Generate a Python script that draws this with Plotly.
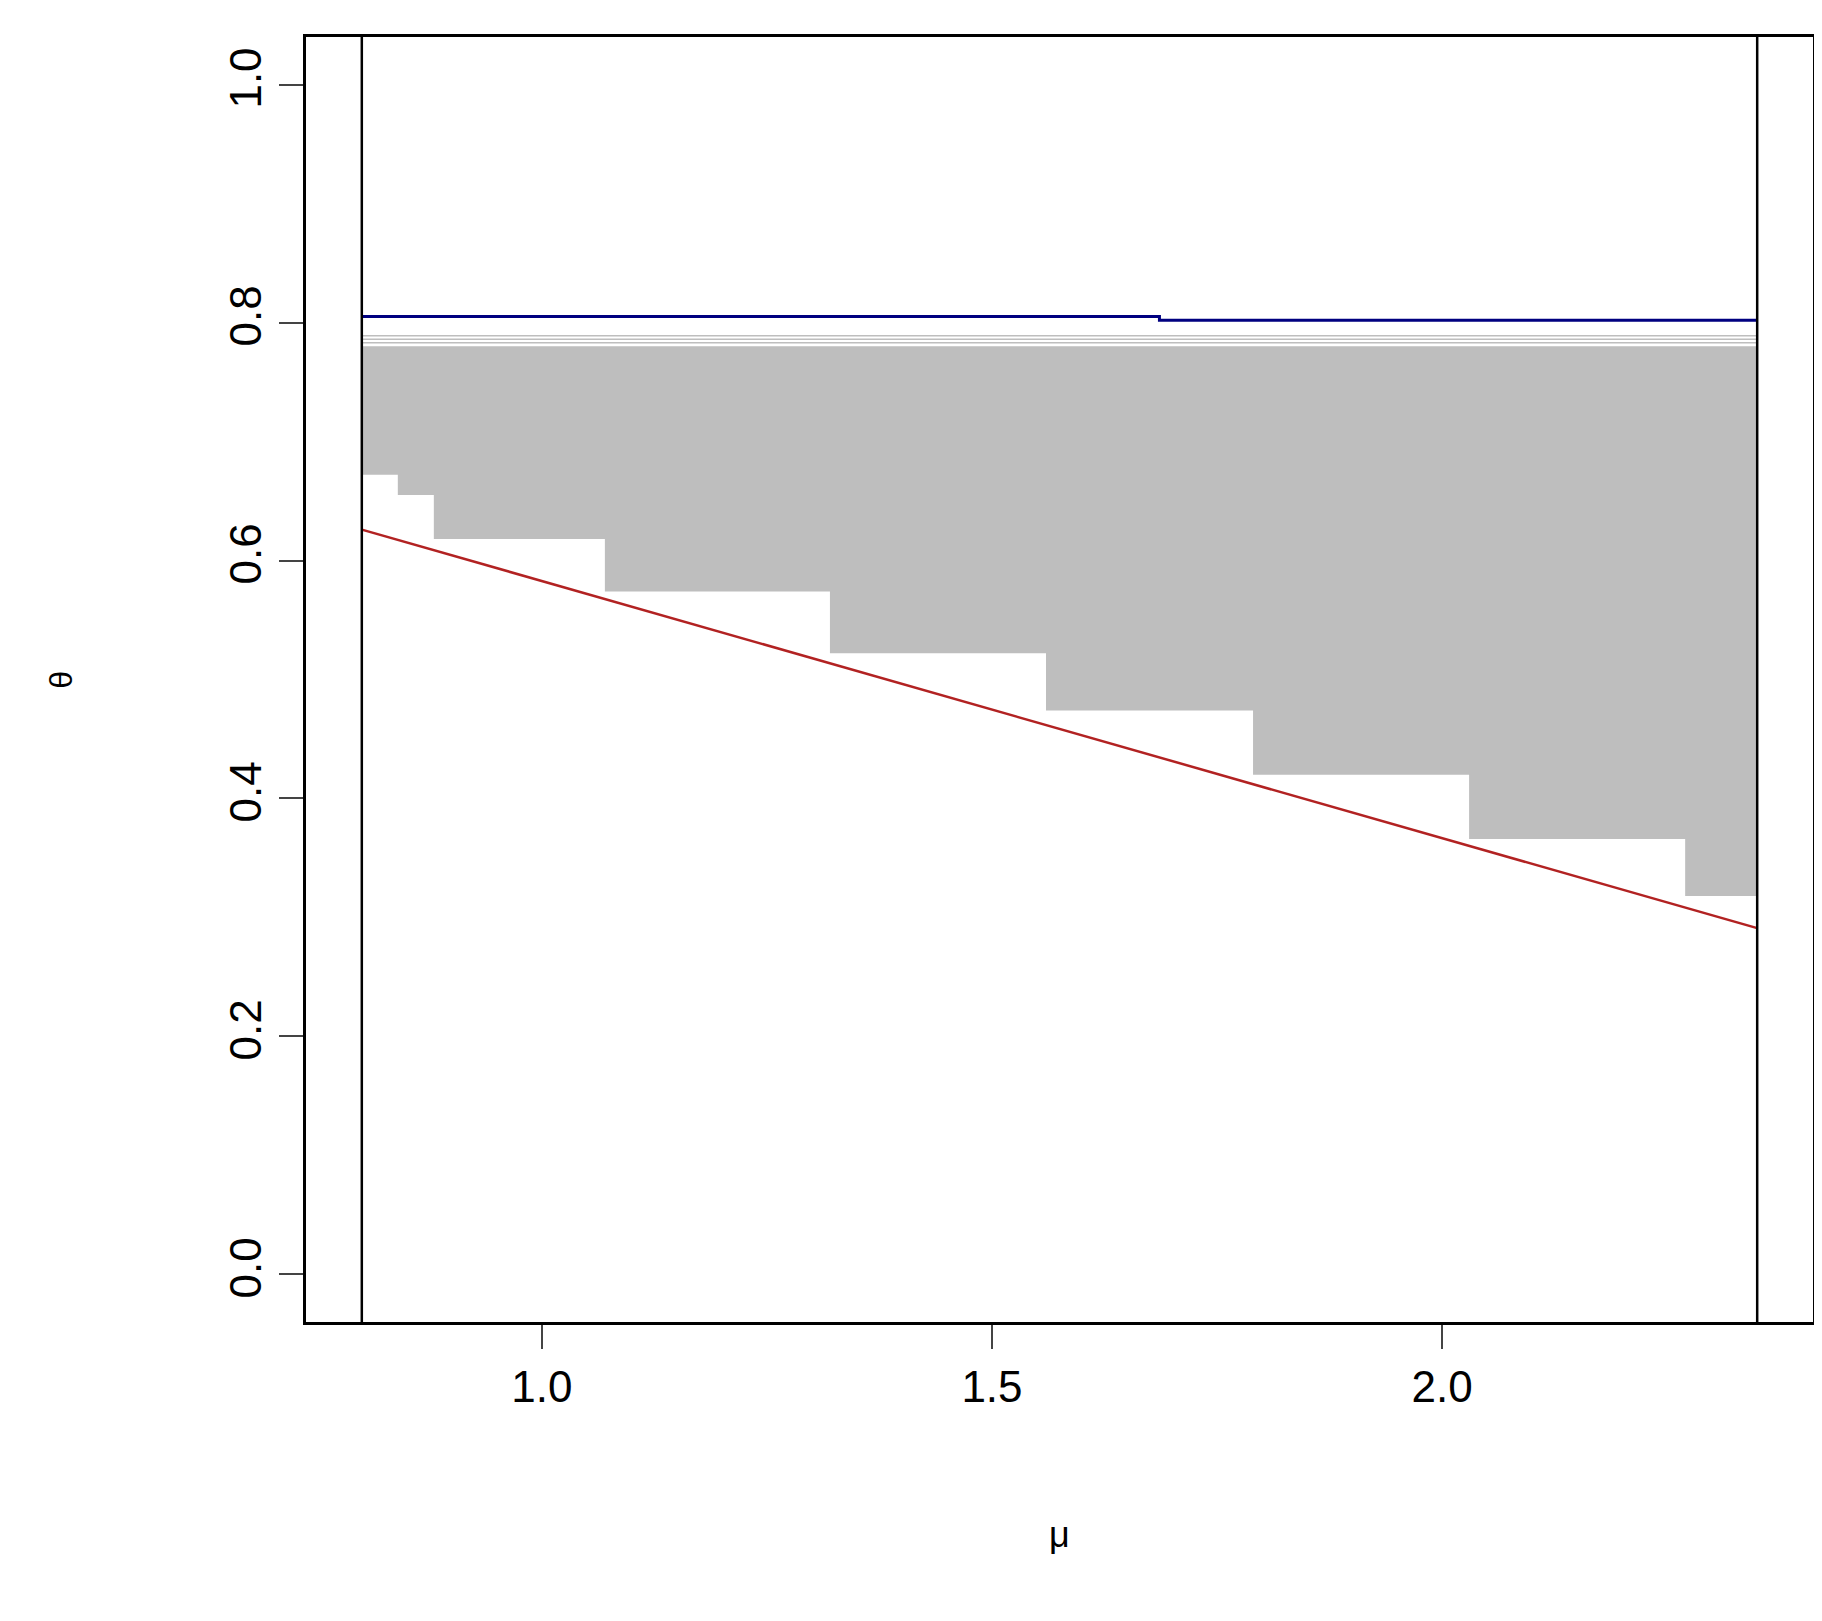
import plotly.graph_objects as go

mu_bounds = [0.80, 2.35]
blue_mu = [0.80, 1.686, 1.686, 2.35]
blue_theta = [0.805, 0.805, 0.802, 0.802]
red_mu = [0.80, 2.35]
red_theta = [0.626, 0.291]
gray_top = 0.780
gray_lines = [0.783, 0.786, 0.789]
step_mu = [0.80, 0.84, 0.88, 1.07, 1.32, 1.56, 1.79, 2.03, 2.27, 2.35]
step_theta = [0.672, 0.655, 0.618, 0.574, 0.522, 0.474, 0.420, 0.366, 0.318]

fig = go.Figure()
# gray region polygon
xs, ys = [], []
for i, t in enumerate(step_theta):
    xs += [step_mu[i], step_mu[i + 1]]
    ys += [t, t]
xs += [step_mu[-1], step_mu[0]]
ys += [gray_top, gray_top]
fig.add_trace(go.Scatter(x=xs, y=ys, fill="toself", fillcolor="#bebebe",
                         line=dict(width=0), mode="lines", showlegend=False))
for g in gray_lines:
    fig.add_trace(go.Scatter(x=mu_bounds, y=[g, g], mode="lines",
                             line=dict(color="#bebebe", width=1.5), showlegend=False))
fig.add_trace(go.Scatter(x=blue_mu, y=blue_theta, mode="lines",
                         line=dict(color="#000080", width=3), showlegend=False))
fig.add_trace(go.Scatter(x=red_mu, y=red_theta, mode="lines",
                         line=dict(color="#b22222", width=2.5), showlegend=False))
for m in mu_bounds:
    fig.add_trace(go.Scatter(x=[m, m], y=[-0.05, 1.05], mode="lines",
                             line=dict(color="black", width=2.5), showlegend=False))

fig.update_layout(
    width=1822, height=1621, plot_bgcolor="white", paper_bgcolor="white",
    margin=dict(l=298, r=17, t=29, b=307),
    font=dict(family="Liberation Sans, Arial", color="black"),
    xaxis=dict(range=[0.738, 2.412], tickvals=[1.0, 1.5, 2.0], ticktext=["1.0", "1.5", "2.0"],
               ticks="outside", ticklen=24, tickwidth=2, tickfont=dict(size=44),
               showgrid=False, zeroline=False, showline=True, mirror=True,
               linecolor="black", linewidth=3),
    yaxis=dict(range=[-0.04, 1.04], tickvals=[0, 0.2, 0.4, 0.6, 0.8, 1.0],
               ticktext=["0.0", "0.2", "0.4", "0.6", "0.8", "1.0"], tickangle=-90,
               ticks="outside", ticklen=24, tickwidth=2, tickfont=dict(size=44),
               showgrid=False, zeroline=False, showline=True, mirror=True,
               linecolor="black", linewidth=3),
    annotations=[
        dict(text="μ", x=0.5, y=-0.165, xref="paper", yref="paper", showarrow=False,
             font=dict(size=36), xanchor="center", yanchor="middle"),
        dict(text="θ", x=47, y=0.5, xref="paper", yref="paper", showarrow=False,
             font=dict(size=32), textangle=-90, xanchor="center", yanchor="middle"),
    ],
)
fig.layout.annotations[1].update(xref="paper", x=-0.163)
fig.write_html("out.html")
